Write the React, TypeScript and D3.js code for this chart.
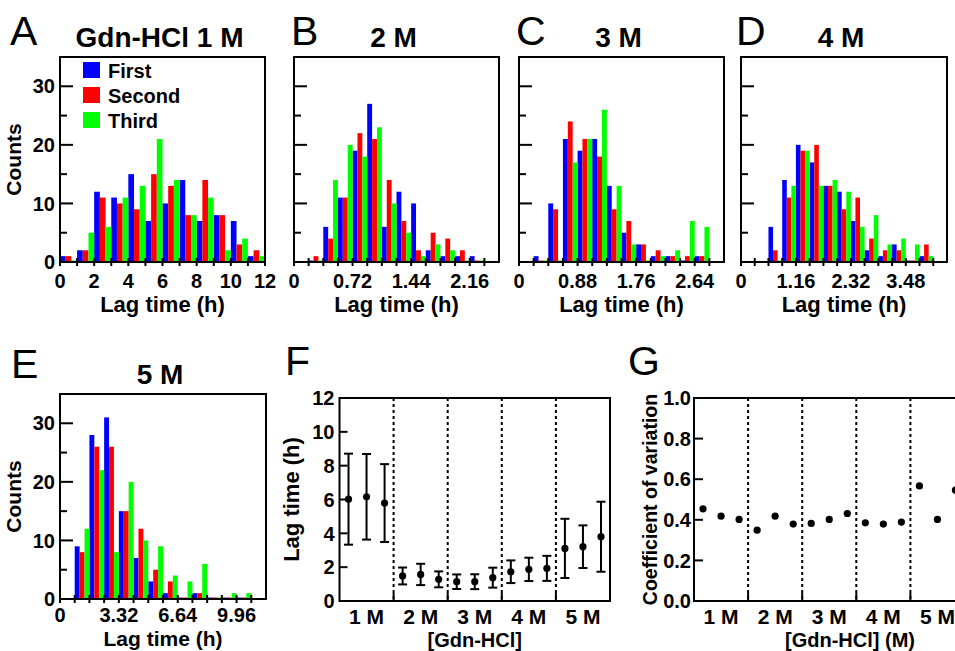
import React, { useEffect, useRef } from 'react';
import * as d3 from 'd3';

// series of the histograms
const seriesNames = ['First', 'Second', 'Third'];
const seriesColors = ['#0000ff', '#ff0000', '#00ff00'];

// A: Gdn-HCl 1 M, bins of 1 h from 0
const firstA = [1, 2, 12, 11, 15, 7, 10, 14, 7, 8, 7, 1];
const secondA = [1, 2, 11, 10, 9, 15, 13, 8, 14, 8, 3, 2];
const thirdA = [0, 5, 6, 11, 13, 21, 14, 8, 11, 2, 4, 1];
const ticksA = ['0', '2', '4', '6', '8', '10', '12'];

// B: 2 M, bins of 0.18 h from 0.18
const firstB = [0, 6, 11, 19, 27, 6, 12, 10, 2, 1, 1, 1];
const secondB = [1, 4, 11, 22, 21, 14, 7, 2, 5, 4, 2, 0];
const thirdB = [0, 14, 20, 18, 23, 10, 5, 1, 3, 2, 0, 0];
const ticksB = ['0', '0.72', '1.44', '2.16'];

// C: 3 M, bins of 0.22 h from 0.22
const firstC = [1, 10, 21, 19, 21, 13, 5, 3, 1, 1, 0, 1];
const secondC = [0, 9, 24, 21, 18, 9, 7, 3, 2, 1, 1, 1];
const thirdC = [0, 0, 17, 21, 26, 13, 3, 0, 1, 2, 7, 6];
const ticksC = ['0', '0.88', '1.76', '2.64'];

// D: 4 M, bins of 0.29 h from 0.58
const firstD = [6, 14, 20, 17, 13, 12, 7, 2, 1, 3, 0, 1];
const secondD = [2, 11, 19, 20, 13, 9, 11, 4, 2, 2, 0, 3];
const thirdD = [0, 13, 19, 13, 14, 12, 6, 8, 3, 4, 3, 1];
const ticksD = ['0', '1.16', '2.32', '3.48'];

// E: 5 M, bins of 0.83 h from 0.83
const firstE = [9, 28, 31, 15, 7, 3, 1, 0, 1, 0, 0, 0];
const secondE = [8, 26, 26, 15, 12, 5, 3, 0, 1, 0, 0, 0];
const thirdE = [12, 22, 8, 20, 10, 9, 4, 3, 6, 0, 1, 1];
const ticksE = ['0', '3.32', '6.64', '9.96'];

const countTicks = [0, 10, 20, 30];

// F / G: three repeats per concentration
const groups = ['1 M', '2 M', '3 M', '4 M', '5 M'];
const lagMean = [6.02, 6.16, 5.79, 1.48, 1.57, 1.28, 1.14, 1.14, 1.38, 1.73, 1.87, 1.93, 3.11, 3.21, 3.8];
const lagSd = [2.69, 2.53, 2.3, 0.5, 0.63, 0.47, 0.43, 0.44, 0.59, 0.67, 0.69, 0.74, 1.75, 1.26, 2.07];
const cv = [0.454, 0.418, 0.402, 0.349, 0.418, 0.379, 0.382, 0.402, 0.431, 0.385, 0.379, 0.389, 0.567, 0.402, 0.546];
const lagTicks = [0, 2, 4, 6, 8, 10, 12];
const cvTicks = [0, 0.2, 0.4, 0.6, 0.8, 1.0];

const FONT = '"Liberation Sans", Arial, Helvetica, sans-serif';

const panels = [
  { letter: 'A', title: 'Gdn-HCl 1 M', data: [firstA, secondA, thirdA], bw: 1, start: 0, nTicks: 13, labels: ticksA, labelStep: 2,
    left: 60, right: 265, top: 57, bottom: 262, yLabels: true, legend: true, lx: 10, ly: 45 },
  { letter: 'B', title: '2 M', data: [firstB, secondB, thirdB], bw: 0.18, start: 1, nTicks: 14, labels: ticksB, labelStep: 4,
    left: 294, right: 499, top: 57, bottom: 262, yLabels: false, legend: false, lx: 291, ly: 45 },
  { letter: 'C', title: '3 M', data: [firstC, secondC, thirdC], bw: 0.22, start: 1, nTicks: 14, labels: ticksC, labelStep: 4,
    left: 519, right: 724, top: 57, bottom: 262, yLabels: false, legend: false, lx: 516, ly: 45 },
  { letter: 'D', title: '4 M', data: [firstD, secondD, thirdD], bw: 0.29, start: 2, nTicks: 15, labels: ticksD, labelStep: 4,
    left: 741, right: 947, top: 57, bottom: 262, yLabels: false, legend: false, lx: 736, ly: 45 },
  { letter: 'E', title: '5 M', data: [firstE, secondE, thirdE], bw: 0.83, start: 1, nTicks: 14, labels: ticksE, labelStep: 4,
    left: 60, right: 266, top: 394, bottom: 599, yLabels: true, legend: false, lx: 11, ly: 378,
    tickDy: 23, titleDy: 47, titleSize: 21 },
];

function drawHist(svg, p) {
  const g = svg.append('g');
  const xMax = p.bw * (p.nTicks - (p.letter === 'A' ? 1 : 0));
  const x = d3.scaleLinear().domain([0, xMax]).range([p.left, p.right]);
  const y = d3.scaleLinear().domain([0, 35]).range([p.bottom, p.top]);
  const sub = p.bw / 3;

  const bars = [];
  p.data.forEach((vals, s) => {
    vals.forEach((v, i) => bars.push({ x0: (p.start + i) * p.bw + s * sub, v, s }));
  });
  g.append('g')
    .selectAll('rect')
    .data(bars)
    .join('rect')
    .attr('x', (d) => x(d.x0))
    .attr('width', x(sub) - x(0))
    .attr('y', (d) => Math.min(y(d.v), p.bottom - 1.5))
    .attr('height', (d) => Math.max(p.bottom - y(d.v), 1.5))
    .attr('fill', (d) => seriesColors[d.s]);

  // frame
  g.append('rect')
    .attr('x', p.left).attr('y', p.top)
    .attr('width', p.right - p.left).attr('height', p.bottom - p.top)
    .attr('fill', 'none').attr('stroke', '#000').attr('stroke-width', 2);

  // y ticks, inward
  d3.range(0, 36, 5).forEach((v) => {
    g.append('line')
      .attr('x1', p.left).attr('x2', p.left + (v % 10 === 0 ? 13 : 7))
      .attr('y1', y(v)).attr('y2', y(v))
      .attr('stroke', '#000').attr('stroke-width', 2);
  });
  if (p.yLabels) {
    countTicks.forEach((v) => {
      g.append('text')
        .attr('x', p.left - 5).attr('y', y(v)).attr('dy', '0.36em')
        .attr('text-anchor', 'end').attr('font-size', 20).attr('font-weight', 'bold')
        .text(v);
    });
    g.append('text')
      .attr('transform', `translate(21,${(p.top + p.bottom) / 2}) rotate(-90)`)
      .attr('text-anchor', 'middle').attr('font-size', 21).attr('font-weight', 'bold')
      .text('Counts');
  }

  // x ticks crossing the baseline
  d3.range(p.nTicks).forEach((i) => {
    const xv = x(i * p.bw);
    g.append('line')
      .attr('x1', xv).attr('x2', xv)
      .attr('y1', p.bottom - 4).attr('y2', p.bottom + 4)
      .attr('stroke', '#000').attr('stroke-width', 2);
  });
  p.labels.forEach((lab, i) => {
    g.append('text')
      .attr('x', x(i * p.labelStep * p.bw)).attr('y', p.bottom + (p.tickDy || 26))
      .attr('text-anchor', 'middle').attr('font-size', 20).attr('font-weight', 'bold')
      .text(lab);
  });
  g.append('text')
    .attr('x', (p.left + p.right) / 2).attr('y', p.bottom + (p.titleDy || 50))
    .attr('text-anchor', 'middle').attr('font-size', p.titleSize || 22).attr('font-weight', 'bold')
    .text('Lag time (h)');

  // title and panel letter
  g.append('text')
    .attr('x', (p.left + p.right) / 2 - 3).attr('y', p.top - 10)
    .attr('text-anchor', 'middle').attr('font-size', 28).attr('font-weight', 'bold')
    .text(p.title);
  g.append('text')
    .attr('x', p.lx).attr('y', p.ly)
    .attr('font-size', 41)
    .text(p.letter);

  if (p.legend) {
    seriesNames.forEach((name, i) => {
      g.append('rect')
        .attr('x', 83).attr('y', 62 + i * 25).attr('width', 17).attr('height', 16)
        .attr('fill', seriesColors[i]);
      g.append('text')
        .attr('x', 108).attr('y', 78 + i * 25)
        .attr('font-size', 20).attr('font-weight', 'bold')
        .text(name);
    });
  }
}

function drawGroupFrame(g, x, left, right, top, bottom) {
  // dotted separators
  [3, 6, 9, 12].forEach((v) => {
    g.append('line')
      .attr('x1', x(v)).attr('x2', x(v)).attr('y1', top).attr('y2', bottom)
      .attr('stroke', '#000').attr('stroke-width', 2).attr('stroke-dasharray', '3,3');
    g.append('line')
      .attr('x1', x(v)).attr('x2', x(v)).attr('y1', bottom - 8).attr('y2', bottom)
      .attr('stroke', '#000').attr('stroke-width', 2);
  });
  g.append('rect')
    .attr('x', left).attr('y', top)
    .attr('width', right - left).attr('height', bottom - top)
    .attr('fill', 'none').attr('stroke', '#000').attr('stroke-width', 2);
  groups.forEach((name, i) => {
    g.append('text')
      .attr('x', x(i * 3 + 1.5)).attr('y', bottom + 23)
      .attr('text-anchor', 'middle').attr('font-size', 21).attr('font-weight', 'bold')
      .text(name);
  });
}

function App() {
  const svgRef = useRef(null);

  useEffect(() => {
    const svg = d3.select(svgRef.current);
    svg.selectAll('*').remove();
    svg.attr('font-family', FONT);

    panels.forEach((p) => drawHist(svg, p));

    // F: lag time
    const fLeft = 339.5, fRight = 610, top = 398, bottom = 601;
    const xF = d3.scaleLinear().domain([0, 15]).range([fLeft, fRight]);
    const yF = d3.scaleLinear().domain([0, 12]).range([bottom, top]);
    const gF = svg.append('g');
    drawGroupFrame(gF, xF, fLeft, fRight, top, bottom);
    lagTicks.forEach((v) => {
      gF.append('line')
        .attr('x1', fLeft).attr('x2', fLeft + 8).attr('y1', yF(v)).attr('y2', yF(v))
        .attr('stroke', '#000').attr('stroke-width', 2);
      gF.append('text')
        .attr('x', fLeft - 5).attr('y', yF(v)).attr('dy', '0.36em')
        .attr('text-anchor', 'end').attr('font-size', 20).attr('font-weight', 'bold')
        .text(v);
    });
    lagMean.forEach((m, i) => {
      const cx = xF(i + 0.5);
      const lo = yF(m - lagSd[i]);
      const hi = yF(m + lagSd[i]);
      gF.append('line').attr('x1', cx).attr('x2', cx).attr('y1', lo).attr('y2', hi)
        .attr('stroke', '#000').attr('stroke-width', 2);
      [lo, hi].forEach((yy) => {
        gF.append('line').attr('x1', cx - 4.5).attr('x2', cx + 4.5).attr('y1', yy).attr('y2', yy)
          .attr('stroke', '#000').attr('stroke-width', 2);
      });
      gF.append('circle').attr('cx', cx).attr('cy', yF(m)).attr('r', 3.6).attr('fill', '#000');
    });
    gF.append('text')
      .attr('transform', `translate(299,${(top + bottom) / 2}) rotate(-90)`)
      .attr('text-anchor', 'middle').attr('font-size', 22).attr('font-weight', 'bold')
      .text('Lag time (h)');
    gF.append('text')
      .attr('x', (fLeft + fRight) / 2).attr('y', bottom + 46)
      .attr('text-anchor', 'middle').attr('font-size', 20).attr('font-weight', 'bold')
      .text('[Gdn-HCl]');
    gF.append('text').attr('x', 285).attr('y', 375).attr('font-size', 41).text('F');

    // G: coefficient of variation
    const gLeft = 694, gRight = 964.5;
    const xG = d3.scaleLinear().domain([0, 15]).range([gLeft, gRight]);
    const yG = d3.scaleLinear().domain([0, 1]).range([bottom, top]);
    const gG = svg.append('g');
    drawGroupFrame(gG, xG, gLeft, gRight, top, bottom);
    cvTicks.forEach((v) => {
      gG.append('line')
        .attr('x1', gLeft).attr('x2', gLeft + 9).attr('y1', yG(v)).attr('y2', yG(v))
        .attr('stroke', '#000').attr('stroke-width', 2);
      gG.append('text')
        .attr('x', gLeft - 3).attr('y', yG(v)).attr('dy', '0.36em')
        .attr('text-anchor', 'end').attr('font-size', 20).attr('font-weight', 'bold')
        .text(d3.format('.1f')(v));
    });
    gG.append('g').selectAll('circle').data(cv).join('circle')
      .attr('cx', (d, i) => xG(i + 0.5)).attr('cy', (d) => yG(d))
      .attr('r', 3.6).attr('fill', '#000');
    gG.append('text')
      .attr('transform', `translate(657,${(top + bottom) / 2}) rotate(-90)`)
      .attr('text-anchor', 'middle').attr('font-size', 19.5).attr('font-weight', 'bold')
      .text('Coefficient of variation');
    gG.append('text')
      .attr('x', 850).attr('y', bottom + 46)
      .attr('text-anchor', 'middle').attr('font-size', 20).attr('font-weight', 'bold')
      .text('[Gdn-HCl] (M)');
    gG.append('text').attr('x', 628).attr('y', 375).attr('font-size', 41).text('G');
  }, []);

  return (
    <svg
      ref={svgRef}
      width={955}
      height={651}
      style={{ position: 'absolute', left: 0, top: 0, background: '#fff' }}
    ></svg>
  );
}

export default App;
